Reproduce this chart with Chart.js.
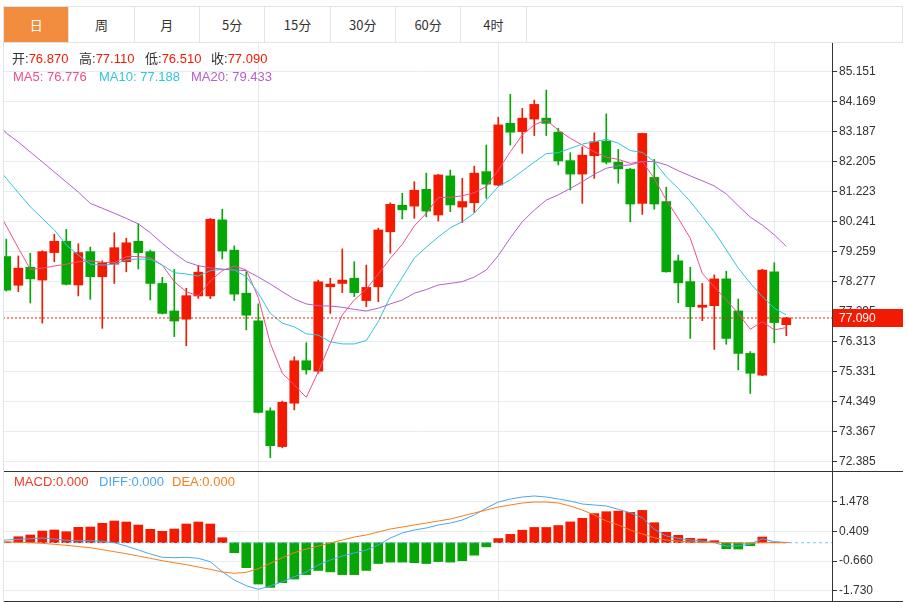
<!DOCTYPE html>
<html>
<head>
<meta charset="utf-8">
<script src="https://cdn.jsdelivr.net/npm/chart.js@4.4.1/dist/chart.umd.min.js"></script>
<style>
html,body{margin:0;padding:0;background:#fff;}
body{width:908px;height:602px;position:relative;overflow:hidden;font-family:"Liberation Sans","Noto Sans CJK SC",Arial,sans-serif;}
#tabbar{position:absolute;left:3px;top:6px;width:900px;height:37px;box-sizing:border-box;border:1px solid #dfe4e9;}
.tab{position:absolute;top:0;height:35px;box-sizing:border-box;border-right:1px solid #dfe4e9;text-align:center;line-height:35px;font-size:13px;color:#333;font-family:"Noto Sans CJK SC","Liberation Sans",sans-serif;}
.tab.on{background:#f28c3e;color:#fff;}
canvas{position:absolute;left:0;}
.hl{position:absolute;font-size:13px;line-height:16px;white-space:nowrap;z-index:3;}
.sep{position:absolute;background:#333;height:1px;left:3px;width:900px;z-index:2;}
#lborder{position:absolute;left:3px;top:6px;width:1px;height:596px;background:#dfe4e9;z-index:2;}
</style>
</head>
<body>
<div id="tabbar"></div>
<canvas id="main" width="908" height="428" style="top:43px"></canvas>
<canvas id="macd" width="908" height="129" style="top:472px"></canvas>
<div class="sep" style="top:471px"></div>
<div class="sep" style="top:601px"></div>
<div id="lborder"></div>
<div id="overlay"></div>
<script>
const tabLabels = ['日','周','月','5分','15分','30分','60分','4时'];

const open  = [79.10,78.16,78.75,78.33,79.23,79.60,78.17,79.26,78.44,78.85,
               78.93,79.60,79.26,78.22,77.32,77.05,77.81,77.81,80.30,79.31,
               77.90,77.00,74.05,72.88,74.30,75.69,75.35,78.11,78.22,78.39,
               77.66,78.11,79.91,80.78,80.75,81.30,80.46,81.74,80.72,80.86,
               81.88,81.44,83.46,83.19,83.60,83.63,83.17,82.24,81.80,82.40,
               82.88,82.19,81.96,80.84,81.69,80.90,78.96,78.28,77.44,77.49,
               78.37,77.32,75.93,75.22,78.60,76.87];
const high  = [79.67,79.12,79.21,79.29,79.83,79.99,79.52,79.41,78.96,79.88,
               79.70,80.17,79.31,78.42,78.68,78.06,78.81,80.35,80.65,79.45,
               78.60,77.55,74.15,74.37,75.82,76.28,78.33,78.39,79.35,78.93,
               78.82,80.03,80.86,81.17,81.55,81.83,81.79,81.93,81.66,82.06,
               82.75,83.66,84.41,83.95,84.22,84.55,83.30,82.50,82.69,83.15,
               83.77,82.61,81.99,83.14,82.28,81.37,79.15,78.75,78.22,78.50,
               78.62,77.71,75.99,78.68,78.90,77.11];
const low   = [77.97,77.95,77.58,76.92,78.93,78.17,77.81,77.70,76.75,78.22,
               78.60,78.69,77.68,77.22,76.48,76.18,77.73,77.72,79.02,77.66,
               76.70,73.98,72.52,72.84,74.08,75.25,75.28,77.24,77.92,77.79,
               77.46,77.62,79.21,80.33,80.35,80.40,80.26,80.57,80.21,80.54,
               81.01,81.42,82.75,82.48,83.06,83.06,82.10,81.28,80.84,81.66,
               82.13,81.50,80.24,80.48,80.65,78.59,77.59,76.42,77.00,76.06,
               76.23,75.39,74.62,75.20,76.28,76.51];
const close = [78.00,78.72,78.37,79.26,79.60,78.19,79.23,78.44,78.90,79.39,
               79.55,79.23,78.22,77.24,76.99,77.82,78.59,80.32,79.28,77.87,
               77.18,74.00,72.91,74.33,75.69,75.39,78.27,78.20,78.33,77.92,
               78.09,79.97,80.81,80.63,81.27,80.59,81.77,80.79,80.90,81.83,
               81.47,83.41,83.17,83.63,84.08,83.46,82.23,81.80,82.42,82.86,
               82.19,81.97,80.82,83.13,80.82,78.60,78.24,77.46,77.51,78.37,
               76.42,75.93,75.28,78.66,76.94,77.09];

// moving averages; first value = the day before the first visible candle
const ma5  = [80.82,
              80.10,79.38,78.68,78.72,78.79,78.85,78.93,78.96,78.91,78.90,
              79.10,79.10,79.06,78.82,78.28,77.95,77.81,78.30,78.64,78.79,
              78.66,77.76,76.26,75.28,74.90,74.49,75.33,76.26,77.19,77.68,
              78.03,78.53,79.04,79.50,80.10,80.52,81.03,81.04,81.09,81.19,
              81.39,81.93,82.53,83.08,83.41,83.57,83.24,82.97,82.75,82.53,
              82.35,82.28,82.15,82.21,81.66,80.95,80.35,79.70,78.55,78.11,
              77.68,77.24,76.72,76.97,76.70,76.776];
const ma10 = [82.13,
              81.66,81.19,80.73,80.35,79.97,79.48,79.15,78.85,78.82,78.85,
              78.99,79.02,79.01,78.82,78.57,78.53,78.46,78.64,78.68,78.66,
              78.44,77.90,77.24,76.92,76.80,76.57,76.53,76.31,76.24,76.24,
              76.35,76.97,77.79,78.42,79.05,79.41,79.74,80.04,80.24,80.52,
              80.95,81.39,81.61,81.90,82.19,82.47,82.50,82.64,82.78,82.86,
              82.94,82.81,82.57,82.51,82.21,81.71,81.33,80.90,80.41,79.91,
              79.32,78.72,78.23,77.79,77.41,77.188];
const ma20 = [83.57,
              83.14,82.85,82.52,82.20,81.87,81.54,81.21,80.84,80.68,80.52,
              80.35,80.17,79.88,79.53,79.21,78.93,78.80,78.73,78.69,78.66,
              78.64,78.43,78.20,77.95,77.71,77.55,77.49,77.48,77.44,77.37,
              77.32,77.41,77.55,77.68,77.90,78.02,78.17,78.22,78.28,78.43,
              78.66,79.13,79.71,80.24,80.62,80.95,81.12,81.33,81.55,81.79,
              81.99,82.07,82.10,82.21,82.21,82.10,81.91,81.74,81.58,81.41,
              81.15,80.76,80.39,80.13,79.81,79.433];

const macdHist = [0.03,0.216,0.278,0.42,0.458,0.397,0.555,0.566,0.70,0.782,
                  0.746,0.638,0.483,0.411,0.494,0.674,0.746,0.674,0.18,-0.36,
                  -0.90,-1.49,-1.61,-1.44,-1.31,-1.15,-1.0,-1.05,-1.15,-1.15,
                  -1.0,-0.75,-0.7,-0.7,-0.72,-0.75,-0.68,-0.7,-0.65,-0.45,
                  -0.15,0.15,0.3,0.45,0.55,0.55,0.62,0.75,0.88,1.05,
                  1.118,1.14,1.092,1.164,0.721,0.375,0.267,0.159,0.133,0.072,
                  -0.216,-0.227,-0.108,0.205,0.02,0.0];
const diff = [0.08,
              0.097,0.123,0.144,0.169,0.133,0.087,0.072,0.072,0.05,0.0,
              -0.119,-0.263,-0.407,-0.526,-0.541,-0.526,-0.562,-0.685,-1.045,-1.345,
              -1.55,-1.68,-1.56,-1.406,-1.226,-1.056,-0.804,-0.624,-0.479,-0.371,
              -0.263,-0.083,0.169,0.35,0.458,0.53,0.638,0.71,0.818,0.999,
              1.25,1.467,1.575,1.647,1.684,1.647,1.575,1.503,1.395,1.359,
              1.323,1.204,1.081,0.901,0.483,0.242,0.159,0.097,0.061,0.0,
              -0.119,-0.119,-0.047,0.144,0.036,0.007];
const dea  = [0.025,
              0.025,0.014,0.0,-0.022,-0.058,-0.094,-0.137,-0.18,-0.252,-0.324,
              -0.397,-0.479,-0.562,-0.649,-0.721,-0.793,-0.876,-0.959,-1.056,-1.103,
              -1.067,-0.937,-0.743,-0.541,-0.36,-0.227,-0.119,-0.011,0.097,0.205,
              0.278,0.386,0.494,0.566,0.638,0.71,0.782,0.854,0.963,1.071,
              1.179,1.287,1.359,1.431,1.467,1.467,1.431,1.323,1.179,0.999,
              0.782,0.638,0.458,0.314,0.18,0.097,0.061,0.025,0.014,0.01,
              0.0,-0.01,-0.02,0.0,0.0,0.0];

const priceTicks = [85.151,84.169,83.187,82.205,81.223,80.241,79.259,78.277,77.295,76.313,75.331,74.349,73.367,72.385];
const macdTicks = [1.478,0.409,-0.660,-1.730];
const dividerCandles = [21,41,64];
const macdLabels = ['MACD:0.000','DIFF:0.000','DEA:0.000'];

const RED = '#f21a00', GREEN = '#06a606';
const C_MA5 = '#ee4f8c', C_MA10 = '#33c3dc', C_MA20 = '#b45fcb';
const C_DIFF = '#4da6ec', C_DEA = '#f57f1f';
const GRID = '#e4ebf1';
const FONT = '"Liberation Sans","Noto Sans CJK SC",Arial,sans-serif';
Chart.defaults.font.family = FONT;
Chart.defaults.font.size = 12;
Chart.defaults.color = '#333';

const tb = document.getElementById('tabbar');
tabLabels.forEach((t,i)=>{
  const d = document.createElement('div');
  d.className = 'tab' + (i===0?' on':'');
  d.style.left = (i*65.33)+'px';
  d.style.width = '65.33px';
  d.textContent = t;
  tb.appendChild(d);
});

const ov = document.getElementById('overlay');
function addText(x, y, parts){
  const d = document.createElement('div');
  d.className = 'hl';
  d.style.left = x+'px'; d.style.top = y+'px';
  parts.forEach(p=>{const s=document.createElement('span'); s.textContent=p[0]; s.style.color=p[1]; d.appendChild(s);});
  ov.appendChild(d);
}
const L = close.length-1;
addText(12, 51, [['开:','#333'],[open[L].toFixed(3),RED]]);
addText(79, 51, [['高:','#333'],[high[L].toFixed(3),RED]]);
addText(145, 51, [['低:','#333'],[low[L].toFixed(3),RED]]);
addText(211, 51, [['收:','#333'],[close[L].toFixed(3),RED]]);
addText(13, 69, [['MA5: '+ma5[ma5.length-1].toFixed(3),C_MA5]]);
addText(99, 69, [['MA10: '+ma10[ma10.length-1].toFixed(3),C_MA10]]);
addText(191, 69, [['MA20: '+ma20[ma20.length-1].toFixed(3),C_MA20]]);
addText(14, 474, [[macdLabels[0],'#f03a2a']]);
addText(99, 474, [[macdLabels[1],C_DIFF]]);
addText(172, 474, [[macdLabels[2],C_DEA]]);

const XMIN = -0.275, XMAX = 68.81;
const idx = close.map((_,i)=>i);
const lineXY = arr => arr.map((v,i)=>({x:i-1,y:v}));

function xScale(){
  return {
    type:'linear', min:XMIN, max:XMAX, offset:false, bounds:'data',
    afterBuildTicks: s => { s.ticks = dividerCandles.map(v=>({value:v})); },
    ticks:{display:false},
    grid:{color:GRID, drawTicks:false, offset:false},
    border:{display:false},
    afterFit: s => { s.height = 0; s.paddingLeft = 0; s.paddingRight = 0; }
  };
}
function yScale(min,max,ticks){
  return {
    position:'right', min, max,
    afterBuildTicks: s => { s.ticks = ticks.map(v=>({value:v})); },
    ticks:{color:'#333', padding:2, font:{size:12}, callback: v => Number(v).toFixed(3)},
    grid:{color:GRID, tickColor:'#333', tickLength:5},
    border:{display:true, color:'#333', width:1},
    afterFit: s => { s.width = 76; s.paddingTop = 0; s.paddingBottom = 0; }
  };
}

const priceTag = {
  id:'priceTag',
  afterDraw(chart){
    const y = chart.scales.y.getPixelForValue(close[L]);
    const ctx = chart.ctx;
    ctx.save();
    ctx.fillStyle = RED;
    ctx.fillRect(833, Math.round(y)-9, 70, 18);
    ctx.fillStyle = '#fff';
    ctx.font = '12px ' + FONT;
    ctx.textBaseline = 'middle';
    ctx.fillText(close[L].toFixed(3), 839, Math.round(y)+0.5);
    ctx.restore();
  }
};

new Chart(document.getElementById('main'), {
  data:{
    datasets:[
      {type:'bar', data: idx.map(i=>({x:i,y:[low[i],high[i]]})), backgroundColor: idx.map(i=>close[i]>=open[i]?RED:GREEN),
       barThickness:1, grouped:false, order:4, clip:0, borderWidth:0},
      {type:'bar', data: idx.map(i=>({x:i,y:[open[i],close[i]]})), backgroundColor: idx.map(i=>close[i]>=open[i]?RED:GREEN),
       barThickness:9, grouped:false, order:3, clip:0, borderWidth:0, minBarLength:1},
      {type:'line', data: lineXY(ma20), borderColor:C_MA20, borderWidth:1, pointRadius:0, tension:0, order:2, clip:0},
      {type:'line', data: lineXY(ma10), borderColor:C_MA10, borderWidth:1, pointRadius:0, tension:0, order:2, clip:0},
      {type:'line', data: lineXY(ma5), borderColor:C_MA5, borderWidth:1, pointRadius:0, tension:0, order:2, clip:0},
      {type:'line', data: [{x:XMIN,y:close[L]},{x:XMAX,y:close[L]}], borderColor:RED, borderWidth:1, borderDash:[2,2], pointRadius:0, order:1, clip:0}
    ]
  },
  options:{
    responsive:false, animation:false, devicePixelRatio:1,
    layout:{padding:{left:3,right:0,top:0,bottom:0}},
    plugins:{legend:{display:false}, tooltip:{enabled:false}},
    scales:{ x:xScale(), y:yScale(72.081, 86.090, priceTicks) }
  },
  plugins:[priceTag]
});

new Chart(document.getElementById('macd'), {
  data:{
    datasets:[
      {type:'bar', data: idx.map(i=>({x:i,y:macdHist[i]})), backgroundColor: idx.map(i=>macdHist[i]>=0?RED:GREEN),
       barThickness:9, grouped:false, order:3, clip:0, borderWidth:0},
      {type:'line', data: [{x:XMIN,y:0},{x:XMAX,y:0}], borderColor:'#7cc8ee', borderWidth:1, borderDash:[3,3], pointRadius:0, order:2, clip:0},
      {type:'line', data: lineXY(dea), borderColor:C_DEA, borderWidth:1, pointRadius:0, tension:0, order:1, clip:0},
      {type:'line', data: lineXY(diff), borderColor:C_DIFF, borderWidth:1, pointRadius:0, tension:0, order:1, clip:0}
    ]
  },
  options:{
    responsive:false, animation:false, devicePixelRatio:1,
    layout:{padding:{left:3,right:0,top:0,bottom:0}},
    plugins:{legend:{display:false}, tooltip:{enabled:false}},
    scales:{ x:xScale(), y:yScale(-2.101, 2.549, macdTicks) }
  }
});
</script>
</body>
</html>
